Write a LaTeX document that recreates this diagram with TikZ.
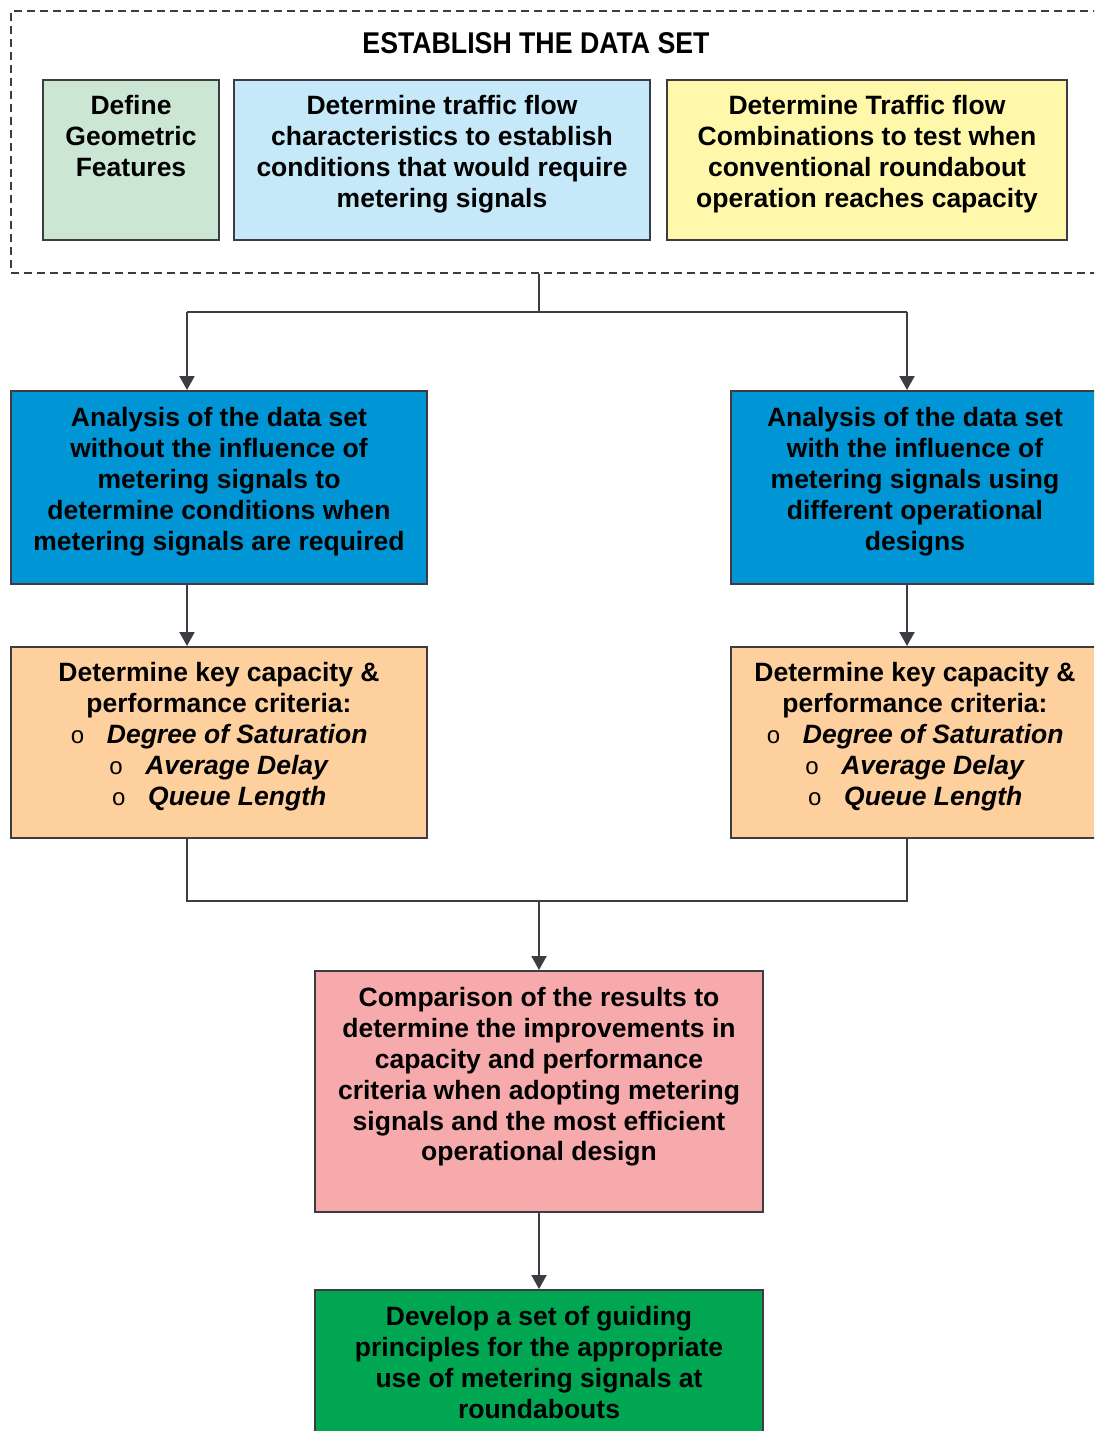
\documentclass[tikz,border=0pt]{standalone}
\usepackage{fontspec}
\setmainfont{Liberation Sans}
\newfontfamily\narrowfont[FakeStretch=0.89]{Liberation Sans}
\newfontfamily\bulletfont{Liberation Mono}
\usetikzlibrary{arrows.meta}

\definecolor{edgegrey}{HTML}{3C3C42}
\definecolor{geogreen}{HTML}{CCE6D4}
\definecolor{flowblue}{HTML}{C6E9F9}
\definecolor{combyellow}{HTML}{FFF8AA}
\definecolor{anablue}{HTML}{0096D6}
\definecolor{critorange}{HTML}{FDD09E}
\definecolor{comppink}{HTML}{F7AAAC}
\definecolor{devgreen}{HTML}{00A651}

\newcommand{\bul}{{\fontsize{24}{24}\bulletfont\mdseries o}\hspace{22pt}}

\begin{document}
\begin{tikzpicture}[x=1pt,y=-1pt]
        \tikzstyle{box} = [draw=edgegrey, line width=2pt, inner sep=0pt]
        \tikzstyle{txt} = [anchor=north, inner sep=0pt, align=center,
                           font=\bfseries\fontsize{26.5}{30.8}\selectfont]
        \tikzstyle{conn} = [draw=edgegrey, line width=2pt]
        \tikzstyle{arr} = [conn, -{Triangle[width=15pt,length=14pt]}]

        \clip (0,0) rectangle (1094,1431);

        % data set frame
        \node[draw=edgegrey, line width=1.5pt, dash pattern=on 8pt off 5pt,
              minimum width=1090pt, minimum height=262pt, inner sep=0pt]
              (ds) at (556,142) {};
        \node[font=\narrowfont\bfseries\fontsize{30}{36}\selectfont]
              (dsT) at (536,43) {ESTABLISH THE DATA SET};

        % boxes
        \node[box, fill=geogreen, minimum width=176pt, minimum height=160pt](geo) at (131,160){};
        \node[box, fill=flowblue, minimum width=416pt, minimum height=160pt](flow) at (442,160){};
        \node[box, fill=combyellow, minimum width=400pt, minimum height=160pt](comb) at (867,160){};
        \node[box, fill=anablue, minimum width=416pt, minimum height=193pt](anaL) at (219,487.5){};
        \node[box, fill=anablue, minimum width=368pt, minimum height=193pt](anaR) at (915,487.5){};
        \node[box, fill=critorange, minimum width=416pt, minimum height=191pt](critL) at (219,742.5){};
        \node[box, fill=critorange, minimum width=368pt, minimum height=191pt](critR) at (915,742.5){};
        \node[box, fill=comppink, minimum width=448pt, minimum height=241pt](comp) at (539,1091.5){};
        \node[box, fill=devgreen, minimum width=448pt, minimum height=160pt](dev) at (539,1370){};

        % texts
        \node[txt](geoT) at ([yshift=-16.5pt]geo.north){Define\\Geometric\\Features};
        \node[txt](flowT) at ([yshift=-16.5pt]flow.north){Determine traffic flow\\characteristics to establish\\conditions that would require\\metering signals};
        \node[txt](combT) at ([yshift=-16.5pt]comb.north){Determine Traffic flow\\Combinations to test when\\conventional roundabout\\operation reaches capacity};
        \node[txt](anaLT) at ([yshift=-17.5pt]anaL.north){Analysis of the data set\\without the influence of\\metering signals to\\determine conditions when\\metering signals are required};
        \node[txt](anaRT) at ([yshift=-17.5pt]anaR.north){Analysis of the data set\\with the influence of\\metering signals using\\different operational\\designs};
        \node[txt](critLT) at ([yshift=-16.5pt]critL.north){Determine key capacity \&\\performance criteria:\\\bul\textit{Degree of Saturation}\\\bul\textit{Average Delay}\\\bul\textit{Queue Length}};
        \node[txt](critRT) at ([yshift=-16.5pt]critR.north){Determine key capacity \&\\performance criteria:\\\bul\textit{Degree of Saturation}\\\bul\textit{Average Delay}\\\bul\textit{Queue Length}};
        \node[txt](compT) at ([yshift=-17.5pt]comp.north){Comparison of the results to\\determine the improvements in\\capacity and performance\\criteria when adopting metering\\signals and the most efficient\\operational design};
        \node[txt](devT) at ([yshift=-17.5pt]dev.north){Develop a set of guiding\\principles for the appropriate\\use of metering signals at\\roundabouts};

        % connectors
        \coordinate (split) at (539,312);
        \coordinate (laneL) at (187,312);
        \coordinate (laneR) at (907,312);
        \coordinate (joinL) at (187,901);
        \coordinate (joinR) at (907,901);
        \coordinate (merge) at (539,901);

        \draw[conn](split |- ds.south) -- (split);
        \draw[conn](laneL) -- (laneR);
        \draw[arr](laneL) -- (laneL |- anaL.north);
        \draw[arr](laneR) -- (laneR |- anaR.north);
        \draw[arr](laneL |- anaL.south) -- (laneL |- critL.north);
        \draw[arr](laneR |- anaR.south) -- (laneR |- critR.north);
        \draw[conn](laneL |- critL.south) -- (joinL) -- (joinR) -- (laneR |- critR.south);
        \draw[arr](merge) -- (comp.north);
        \draw[arr](comp.south) -- (dev.north);
    \end{tikzpicture}
\end{document}
